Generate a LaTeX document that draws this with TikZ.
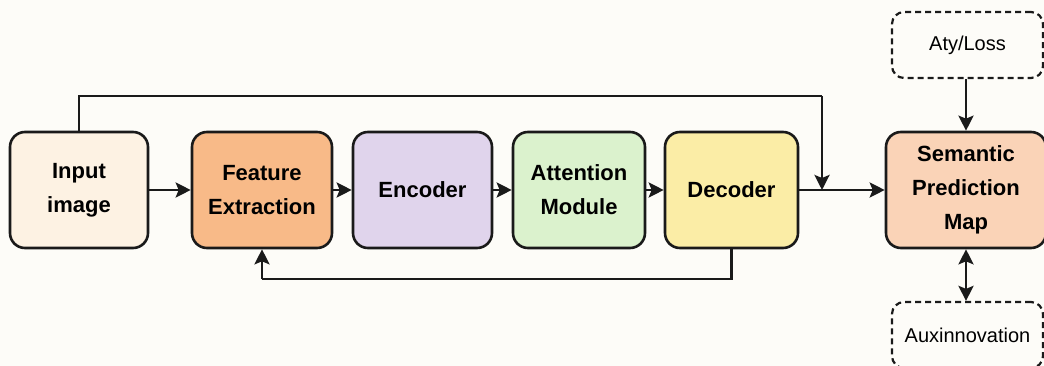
\documentclass[tikz,border=0pt]{standalone}
\usepackage{fontspec}
\setmainfont{Liberation Sans}
\usetikzlibrary{arrows.meta}
\definecolor{bg}{HTML}{FDFCF8}
\definecolor{cinput}{HTML}{FDF2E3}
\definecolor{cfeat}{HTML}{F8BA88}
\definecolor{cenc}{HTML}{E0D4EC}
\definecolor{catt}{HTML}{DBF2CD}
\definecolor{cdec}{HTML}{FBEDA6}
\definecolor{csem}{HTML}{FAD3B7}
\definecolor{ink}{HTML}{1A1A1A}
\tikzset{
  blk/.style={draw=ink, line width=2.6pt, rounded corners=15pt, inner sep=0pt,
    minimum height=116pt, align=center, text=black,
    font=\fontsize{22}{34}\selectfont\bfseries},
  aux/.style={draw=ink, line width=2.2pt, dashed, dash pattern=on 6pt off 4pt,
    rounded corners=12pt, inner sep=0pt, minimum width=151pt, minimum height=66pt,
    align=center, text=black, font=\fontsize{20}{24}\selectfont},
  conn/.style={draw=ink, line width=2.8pt, -{Stealth[length=15pt,width=15pt,inset=3pt]}},
  line/.style={draw=ink, line width=2.8pt}
}
\begin{document}
\begin{tikzpicture}[x=1pt,y=-1pt]
\fill[bg] (0,0) rectangle (1044,366);
\useasboundingbox (0,0) rectangle (1044,366);
\node[blk, fill=cinput, minimum width=138pt] (in) at (79,190) {Input\\image};
\node[blk, fill=cfeat, minimum width=140pt] (fe) at (262,190) {Feature\\Extraction};
\node[blk, fill=cenc, minimum width=139pt] (en) at (422.5,190) {Encoder};
\node[blk, fill=catt, minimum width=132pt] (at) at (579,190) {Attention\\Module};
\node[blk, fill=cdec, minimum width=133pt] (de) at (731.5,190) {Decoder};
\node[blk, fill=csem, minimum width=160pt] (se) at (966,190) {Semantic\\Prediction\\Map};
\node[aux] (loss) at (967.5,45) {Aty/Loss};
\node[aux] (ax) at (967.5,335) {Auxinnovation};
\coordinate (tr) at (822,96);
\coordinate (tj) at (822,190);
\coordinate (bl) at (262,279);
\draw[conn] (in) -- (fe);
\draw[conn] (fe) -- (en);
\draw[conn] (en) -- (at);
\draw[conn] (at) -- (de);
\draw[conn] (de) -- (se);
\draw[line] (in.north) |- (tr);
\draw[conn] (tr) -- (tj);
\draw[line] (de.south) |- (bl);
\draw[conn] (bl) -- (fe.south);
\draw[conn] (loss.south -| se.north) -- (se.north);
\draw[draw=ink, line width=2.8pt, {Stealth[length=15pt,width=15pt,inset=3pt]}-{Stealth[length=15pt,width=15pt,inset=3pt]}] (se.south) -- (ax.north -| se.south);
\end{tikzpicture}
\end{document}
